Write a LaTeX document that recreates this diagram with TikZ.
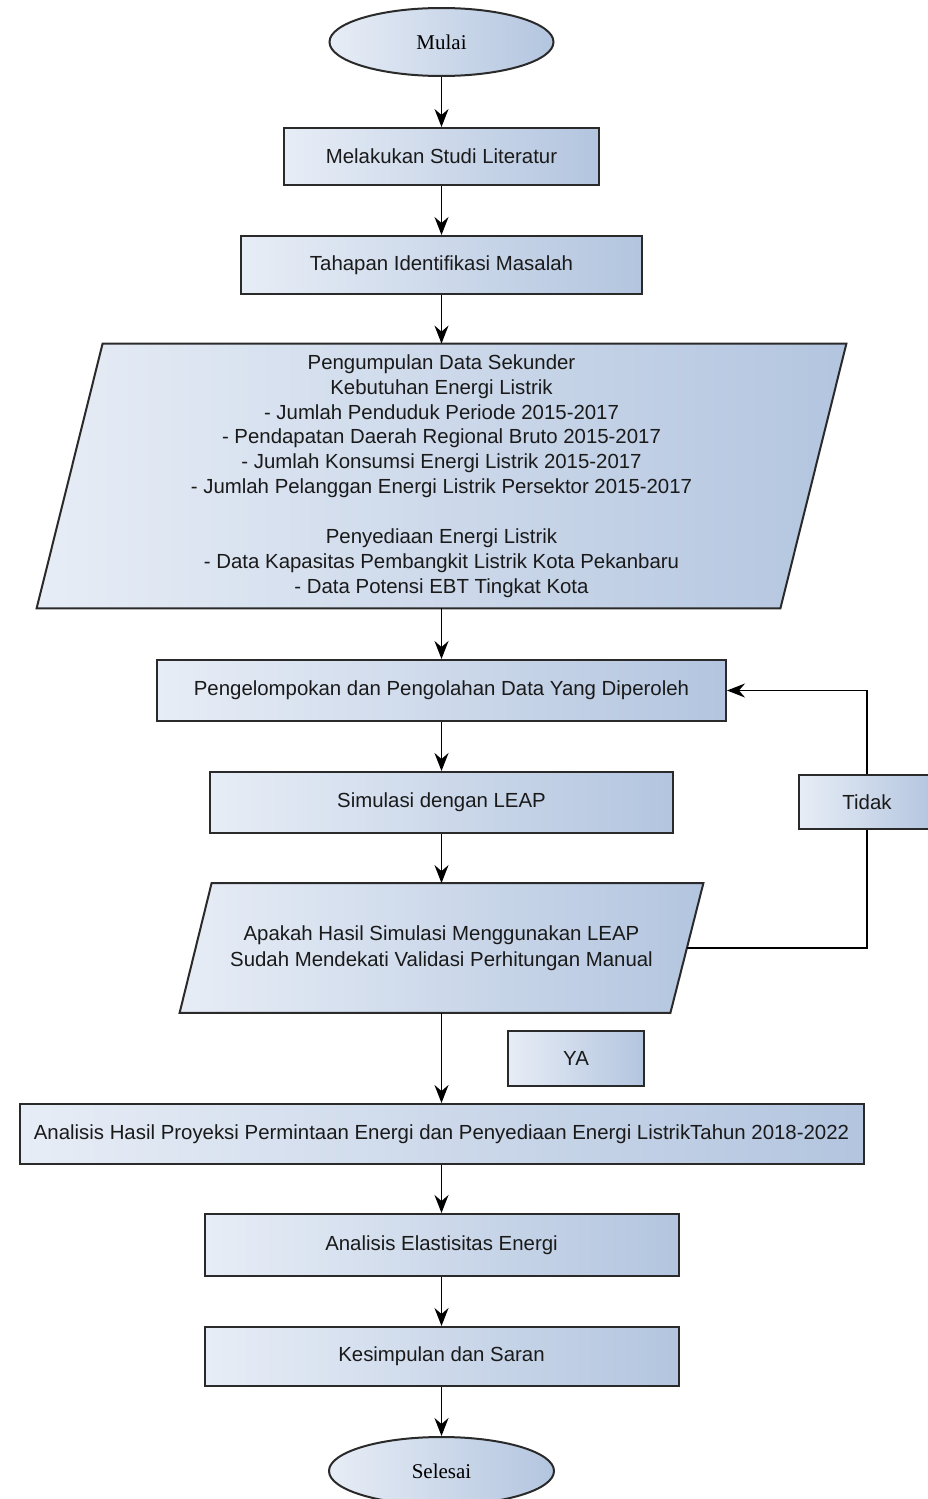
\documentclass[tikz,border=0pt]{standalone}
\usepackage{fontspec}
\setmainfont{Liberation Sans}
\newfontfamily\serifface{Liberation Serif}
\usetikzlibrary{shapes.geometric,arrows.meta,backgrounds,calc}
\definecolor{boxL}{HTML}{E7EDF6}
\definecolor{boxR}{HTML}{B3C5DF}
\definecolor{edgec}{HTML}{2A2A2A}
\definecolor{txtc}{HTML}{1A1A1A}
\begin{document}
\begin{tikzpicture}[x=0.5pt,y=-0.5pt,
  box/.style={rectangle, draw=edgec, line width=1pt, left color=boxL, right color=boxR,
    text=txtc, inner sep=0pt, align=center, font=\fontsize{10.2pt}{12.45pt}\selectfont},
  term/.style={ellipse, draw=edgec, line width=1pt, left color=boxL, right color=boxR,
    text=black, inner sep=0pt, font=\serifface\fontsize{10.5pt}{12pt}\selectfont},
  paratext/.style={rectangle, inner sep=0pt, align=center, text=txtc,
    font=\fontsize{10.2pt}{12.45pt}\selectfont},
  paraface/.style={draw=edgec, line width=1pt, left color=boxL, right color=boxR},
  link/.style={draw=black, line width=0.9pt, -{Stealth[length=9pt,width=7pt,inset=3pt]}},
  plainline/.style={draw=black, line width=0.9pt}
]
\useasboundingbox (0,0) rectangle (927,1499);

\node[term, minimum width=112pt, minimum height=34pt] (mulai) at (441.5,42) {Mulai};
\node[box, minimum width=157.5pt, minimum height=28.5pt] (s1) at (441.5,156.5) {Melakukan Studi Literatur};
\node[box, minimum width=200.5pt, minimum height=29pt] (s2) at (441.5,265) {Tahapan Identifikasi Masalah};

\node[paratext, minimum width=404.5pt, minimum height=132pt] (data) at (441.5,476) {%
Pengumpulan Data Sekunder\\
Kebutuhan Energi Listrik\\
- Jumlah Penduduk Periode 2015-2017\\
- Pendapatan Daerah Regional Bruto 2015-2017\\
- Jumlah Konsumsi Energi Listrik 2015-2017\\
- Jumlah Pelanggan Energi Listrik Persektor 2015-2017\\[12.45pt]
Penyediaan Energi Listrik\\
- Data Kapasitas Pembangkit Listrik Kota Pekanbaru\\
- Data Potensi EBT Tingkat Kota};

\node[box, minimum width=284.5pt, minimum height=30.5pt] (s3) at (441.5,690.5) {Pengelompokan dan Pengolahan Data Yang Diperoleh};
\node[box, minimum width=231.5pt, minimum height=30.5pt] (s4) at (441.5,802.5) {Simulasi dengan LEAP};

\node[paratext, minimum width=261.5pt, minimum height=64.5pt, font=\fontsize{10.2pt}{13pt}\selectfont] (dec) at (441.5,948) {%
Apakah Hasil Simulasi Menggunakan LEAP\\
Sudah Mendekati Validasi Perhitungan Manual};

\node[box, minimum width=68pt, minimum height=27pt] (tidak) at (867,802) {Tidak};
\node[box, minimum width=68pt, minimum height=27.5pt] (ya) at (576,1058.5) {YA};

\node[box, minimum width=422pt, minimum height=30pt] (s5) at (441.5,1134) {Analisis Hasil Proyeksi Permintaan Energi dan Penyediaan Energi ListrikTahun 2018-2022};
\node[box, minimum width=237pt, minimum height=31pt] (s6) at (441.5,1245) {Analisis Elastisitas Energi};
\node[box, minimum width=237pt, minimum height=29.5pt] (s7) at (441.5,1356.5) {Kesimpulan dan Saran};
\node[term, minimum width=112.5pt, minimum height=34pt] (selesai) at (441.5,1471) {Selesai};

\begin{scope}[on background layer]
  \path[paraface] ($(data.north west)+(66,0)$) -- (data.north east)
     -- ($(data.south east)+(-66,0)$) -- (data.south west) -- cycle;
  \path[paraface] ($(dec.north west)+(32,0)$) -- (dec.north east)
     -- ($(dec.south east)+(-33,0)$) -- (dec.south west) -- cycle;
\end{scope}

\coordinate (decR) at ($(dec.east)+(-16.5,0)$);

\draw[link] (mulai.south) -- (s1.north);
\draw[link] (s1.south) -- (s2.north);
\draw[link] (s2.south) -- (data.north);
\draw[link] (data.south) -- (s3.north);
\draw[link] (s3.south) -- (s4.north);
\draw[link] (s4.south) -- (dec.north);
\draw[link] (dec.south) -- (s5.north);
\draw[link] (s5.south) -- (s6.north);
\draw[link] (s6.south) -- (s7.north);
\draw[link] (s7.south) -- (selesai.north);

\draw[plainline] (decR) -| (tidak.south);
\draw[link] (tidak.north) |- (s3.east);
\end{tikzpicture}
\end{document}
